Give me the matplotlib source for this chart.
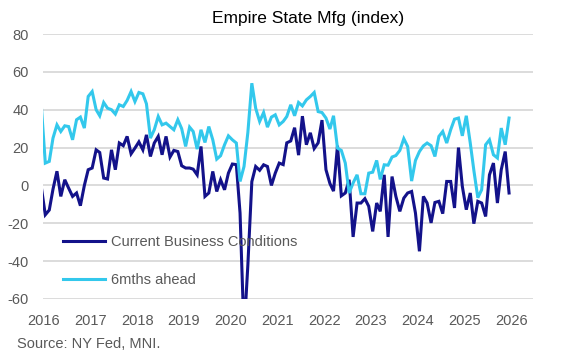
import matplotlib
matplotlib.use("Agg")
import matplotlib.pyplot as plt
import matplotlib.dates as mdates
import pandas as pd

plt.rcParams['font.family'] = ['Liberation Sans', 'DejaVu Sans']
plt.rcParams['axes.unicode_minus'] = False

# Monthly readings, Dec 2015 .. Dec 2025 (first point sits just left of the axis)
months = pd.date_range('2015-12-01', '2025-12-01', freq='MS') + pd.Timedelta(days=14)

current = [
    -1,
    -15.5, -13, -2, 7.5, -5.8, 3, -1.4, -5.8, -4, -10.7, 0, 8.3,
    9.2, 18.8, 17.4, 3.9, 3.4, 18.8, 8.3, 22.4, 21, 25.9, 16.7, 19.7,
    23, 18.8, 26.7, 15.3, 22.4, 25.9, 16.2, 25.9, 15, 18.5, 17.9, 10.4,
    9.2, 9.2, 8.6, 5.6, 20.6, -5.8, -4, 7.4, -3.2, 3, -2.3, 6.5,
    11.3, 11, -14.6, -78, -42, 2, 10, 8, 10.9, 10, 0, 6.5,
    11.8, 11, 22.5, 23.5, 30.5, 16, 36.6, 21.5, 27.8, 19.5, 22.5, 34.5,
    8.3, 1, -3, 21, -5.5, -4, 3, -27.2, -9.3, -9.3, -7, -11,
    -24.3, -9.3, -13.7, 5.6, -27.2, 4.7, -5.8, -13.7, -6.7, -4, -3.2, -14.6,
    -34.8, -5.8, -9.3, -19.8, -9, -8.4, -14.9, 2.1, 2.1, -11.9, 20, -0.5,
    -12.8, -4, -20.2, -8.4, -9.3, -16.4, 5.6, 11.8, -9.3, 8.3, 17.9, -4,
]

ahead = [
    42,
    11.8, 12.7, 25, 32, 28.5, 31.5, 31.1, 24.1, 34.7, 36.1, 30.3, 47,
    49.6, 40, 36.8, 43.8, 40.8, 40, 37.7, 42.6, 41.7, 44.9, 49.6, 44.3,
    49.1, 48.4, 43.1, 25, 29.4, 36.4, 32, 32.9, 31.1, 29.4, 34.7, 30,
    20.6, 30.8, 28.5, 19.2, 29.4, 22.7, 31.1, 24.1, 13.9, 15.7, 21.5, 26.2,
    24.1, 22.4, 2.1, 10, 28, 54, 40.8, 33.8, 38.5, 30.8, 36.1, 37.3,
    32, 33.8, 36.4, 42.6, 36.8, 43.8, 42, 45.2, 47, 49.1, 39, 38.5,
    35.6, 29.8, 36.8, 19.7, 18.5, 11.8, -4, 1.3, 5.6, -4.4, -4.4, 6.5,
    7, 13.2, 3.2, 10.9, 10.7, 15, 15.8, 18.5, 24.7, 20.6, 2.3, 13.2,
    17.9, 20.9, 22.4, 21, 15.3, 25.9, 28.5, 22.4, 29.4, 35, 35.6, 26.2,
    36.8, 22.4, 8, -6.5, -2.3, 21.5, 24.1, 16.2, 14.5, 30.3, 21.5, 35.6,
]

labels = ['Current Business Conditions', '6mths ahead']
yticks = [-60, -40, -20, 0, 20, 40, 60, 80]

navy = '#13128a'
cyan = '#33c8ec'
grey = '#595959'

fig = plt.figure(figsize=(5.72, 3.62), dpi=100)
ax = fig.add_axes([43 / 572, 1 - 299 / 362, 490 / 572, 265 / 362])

ax.plot(months, current, color=navy, lw=2.2, label=labels[0], solid_joinstyle='miter')
ax.plot(months, ahead, color=cyan, lw=2.2, label=labels[1], solid_joinstyle='miter')

ax.set_ylim(-60, 80)
ax.set_yticks(yticks)
ax.set_xlim(pd.Timestamp('2015-12-28'), pd.Timestamp('2026-06-20'))
ax.xaxis.set_major_locator(mdates.YearLocator())
ax.xaxis.set_major_formatter(mdates.DateFormatter('%Y'))

ax.grid(axis='y', color='#d9d9d9', lw=1.3)
ax.set_axisbelow(True)
for s in ax.spines.values():
    s.set_visible(False)
ax.tick_params(length=0, labelsize=10.5, labelcolor=grey)
ax.tick_params(axis='y', pad=10)
ax.tick_params(axis='x', pad=11)

leg = ax.legend(loc='upper left', bbox_to_anchor=(0.041, 0.24), frameon=False,
                fontsize=10.5, labelcolor=grey, handlelength=2.9, handletextpad=0.4,
                labelspacing=1.6, borderpad=0, borderaxespad=0)

fig.text(308 / 572, 1 - 18 / 362, 'Empire State Mfg (index)', ha='center', va='center',
         fontsize=12.5, color='black')
fig.text(17 / 572, 1 - 344 / 362, 'Source: NY Fed, MNI.', ha='left', va='center',
         fontsize=10.5, color=grey)

fig.savefig('out.png', dpi=100)
